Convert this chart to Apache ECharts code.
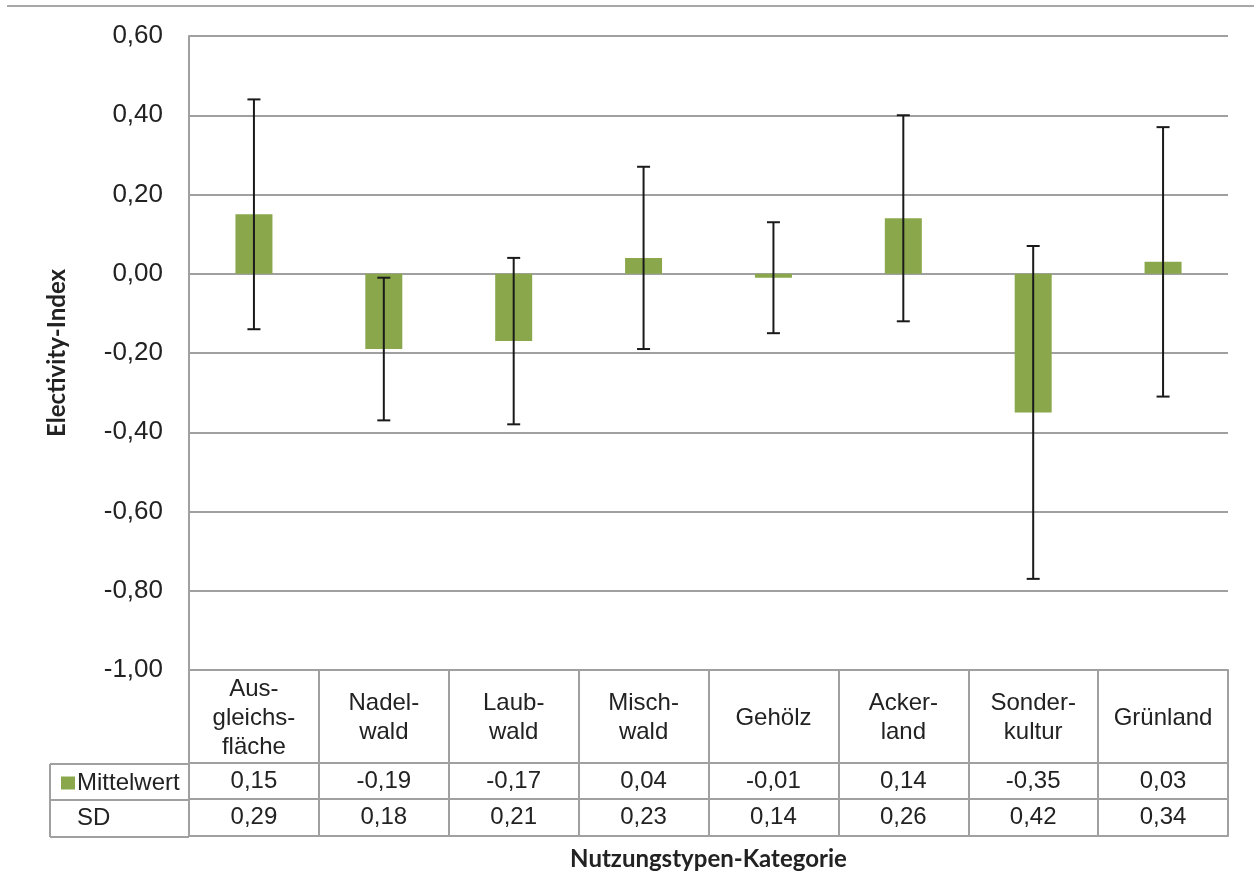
<!DOCTYPE html>
<html><head><meta charset="utf-8">
<script src="https://cdn.jsdelivr.net/npm/echarts@6/dist/echarts.min.js"></script>
<style>html,body{margin:0;padding:0;background:#fff}#c{width:1254px;height:872px}</style>
</head><body><div id="c"></div>
<script>
const categories = ['Aus-\ngleichs-\nfläche','Nadel-\nwald','Laub-\nwald','Misch-\nwald','Gehölz','Acker-\nland','Sonder-\nkultur','Grünland'];
const meanValues = [0.15,-0.19,-0.17,0.04,-0.01,0.14,-0.35,0.03];
const sdValues = [0.29,0.18,0.21,0.23,0.14,0.26,0.42,0.34];
const yTicks = {min:-1, max:0.6, interval:0.2};

const fmt = v => v.toFixed(2).replace('.', ',');
const gridCol = '#a0a0a0';
const txt = '#222';
const font = 'Liberation Sans, Arial, sans-serif';
const errData = meanValues.map((m,i)=>[i, m - sdValues[i], m + sdValues[i]]);

const chart = echarts.init(document.getElementById('c'));
const baseX = {type:'category', data:categories, position:'bottom', boundaryGap:true};
const lineSt = {show:true, onZero:false, lineStyle:{color:gridCol, width:2}};
chart.setOption({
  animation:false,
  grid:{left:189, right:26, top:36, bottom:202, containLabel:false, outerBoundsMode:'none'},
  legend:{show:true, left:56, top:766, icon:'rect', itemWidth:14, itemHeight:13, itemGap:4,
    data:['Mittelwert'], textStyle:{fontSize:24, lineHeight:24, color:txt, fontFamily:font, padding:[0,0,0,-3]}},
  xAxis:[
    Object.assign({}, baseX, {
      axisLine:lineSt,
      axisTick:{show:true, length:166, interval:0, lineStyle:{color:gridCol, width:2}},
      axisLabel:{interval:0, verticalAlign:'middle', margin:48, fontSize:24, lineHeight:29, color:txt, fontFamily:font}
    }),
    Object.assign({}, baseX, {
      offset:93, axisLine:lineSt, axisTick:{show:false},
      axisLabel:{interval:0, verticalAlign:'middle', margin:18, fontSize:24, color:txt, fontFamily:font,
        formatter:(v,i)=>fmt(meanValues[i])}
    }),
    Object.assign({}, baseX, {
      offset:129, axisLine:lineSt, axisTick:{show:false},
      axisLabel:{interval:0, verticalAlign:'middle', margin:18, fontSize:24, color:txt, fontFamily:font,
        formatter:(v,i)=>fmt(sdValues[i])}
    }),
    Object.assign({}, baseX, {
      offset:166, axisLine:lineSt, axisTick:{show:false}, axisLabel:{show:false},
      name:'Nutzungstypen-Kategorie', nameLocation:'middle', nameGap:11,
      nameTextStyle:{fontSize:24, fontWeight:'bold', color:txt, fontFamily:'Lato, sans-serif'}
    })
  ],
  yAxis:{
    type:'value', min:yTicks.min, max:yTicks.max, interval:yTicks.interval,
    axisLine:{show:true, lineStyle:{color:gridCol, width:2}},
    axisTick:{show:false},
    splitLine:{show:true, lineStyle:{color:gridCol, width:2}},
    axisLabel:{formatter:fmt, fontSize:26, color:txt, margin:26, fontFamily:font},
    name:'Electivity-Index', nameLocation:'middle', nameGap:120, nameRotate:90,
    nameTextStyle:{fontSize:24, fontWeight:'bold', color:txt, fontFamily:'Lato, sans-serif'}
  },
  series:[
    {name:'Mittelwert', type:'bar', data:meanValues, barWidth:37, itemStyle:{color:'#8aa84b'}},
    {name:'SD', type:'custom', data:errData, z:10,
      renderItem:function(params, api){
        const x = api.value(0);
        const lo = api.coord([x, api.value(1)]);
        const hi = api.coord([x, api.value(2)]);
        const cw = 6.5;
        const st = {stroke:'#1a1a1a', lineWidth:2};
        return {type:'group', children:[
          {type:'line', shape:{x1:lo[0], y1:lo[1], x2:hi[0], y2:hi[1]}, style:st},
          {type:'line', shape:{x1:hi[0]-cw, y1:hi[1], x2:hi[0]+cw, y2:hi[1]}, style:st},
          {type:'line', shape:{x1:lo[0]-cw, y1:lo[1], x2:lo[0]+cw, y2:lo[1]}, style:st}
        ]};
      }
    }
  ],
  graphic:[
    {type:'line', shape:{x1:7, y1:6, x2:1254, y2:6}, style:{stroke:'#a8a8a8', lineWidth:2}},
    {type:'line', shape:{x1:50, y1:764, x2:189, y2:764}, style:{stroke:gridCol, lineWidth:2}},
    {type:'line', shape:{x1:50, y1:800, x2:189, y2:800}, style:{stroke:gridCol, lineWidth:2}},
    {type:'line', shape:{x1:50, y1:837, x2:189, y2:837}, style:{stroke:gridCol, lineWidth:2}},
    {type:'line', shape:{x1:50, y1:764, x2:50, y2:837}, style:{stroke:gridCol, lineWidth:2}},
    {type:'text', style:{x:77, y:818, text:'SD', fontSize:24, fill:txt, fontFamily:font, verticalAlign:'middle'}}
  ]
});
</script></body></html>
